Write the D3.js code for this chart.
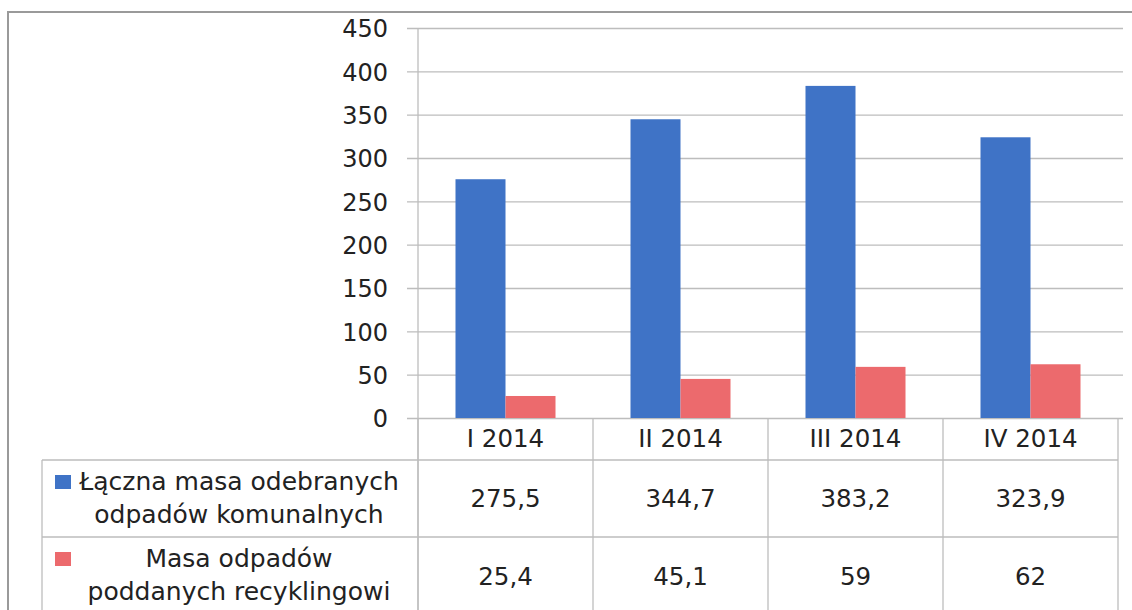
<!DOCTYPE html>
<html lang="pl">
<head>
  <meta charset="UTF-8">
  <title>Masa odpadów 2014</title>
  <script src="https://d3js.org/d3.v7.min.js"></script>
  <style>
    body { margin: 0; background: #fff; }
    svg text { font-family: "DejaVu Sans", sans-serif; fill: #222; }
  </style>
</head>
<body>
  <div id="chart"></div>

  <script>
    // dane
    const kwartaly = ["I 2014", "II 2014", "III 2014", "IV 2014"];
    const serie = ["laczna", "recykling"];
    const laczna = [275.5, 344.7, 383.2, 323.9];
    const recykling = [25.4, 45.1, 59, 62];
    const opisy = [
      ["Łączna masa odebranych", "odpadów komunalnych"],
      ["Masa odpadów", "poddanych recyklingowi"]
    ];
    const osY = [0, 50, 100, 150, 200, 250, 300, 350, 400, 450];
    const kolory = ["#3f73c6", "#ec6a6d"];

    const W = 1132, H = 610;
    const pLeft = 418, pRight = 1118, pTop = 28, pBottom = 418;

    const svg = d3.select("#chart").append("svg")
      .attr("width", W).attr("height", H);

    svg.append("rect").attr("width", W).attr("height", H).attr("fill", "#fff");

    // ramka zewnętrzna
    svg.append("path")
      .attr("d", `M8,${H} L8,12 L${W},12`)
      .attr("fill", "none").attr("stroke", "#9a9a9a").attr("stroke-width", 2);

    const x = d3.scaleBand().domain(kwartaly).range([pLeft, pRight]);
    const xs = d3.scaleBand().domain(serie)
      .range([0, x.bandwidth()]).paddingInner(0).paddingOuter(0.75);
    const y = d3.scaleLinear().domain([0, 450]).range([pBottom, pTop]);

    // siatka i oś Y
    const yAxis = svg.append("g")
      .attr("transform", `translate(${pLeft},0)`)
      .call(d3.axisLeft(y).tickValues(osY).tickSize(-(pRight - pLeft + 5)).tickPadding(30));
    yAxis.select(".domain").remove();
    yAxis.selectAll(".tick line")
      .attr("x1", -11).attr("stroke", "#bdbdbd").attr("stroke-width", 1.3);
    yAxis.selectAll(".tick text")
      .style("font-size", "24px").attr("dy", "0.37em").attr("fill", "#222");

    svg.append("line")
      .attr("x1", pLeft).attr("x2", pLeft).attr("y1", pTop).attr("y2", H)
      .attr("stroke", "#bdbdbd").attr("stroke-width", 1.3);

    // słupki
    const dane = kwartaly.map((k, i) => ({ k, v: [laczna[i], recykling[i]] }));
    const grupy = svg.selectAll(".grupa").data(dane).enter().append("g")
      .attr("transform", d => `translate(${x(d.k)},0)`);
    grupy.selectAll("rect")
      .data(d => serie.map((s, j) => ({ s, v: d.v[j], j })))
      .enter().append("rect")
      .attr("x", d => xs(d.s))
      .attr("width", xs.bandwidth())
      .attr("y", d => y(d.v))
      .attr("height", d => y(0) - y(d.v))
      .attr("fill", d => kolory[d.j]);

    // tabela danych
    const tabStroke = "#bdbdbd";
    const rowTop = [460, 537];
    kwartaly.forEach(k => {
      svg.append("line").attr("x1", x(k)).attr("x2", x(k)).attr("y1", pBottom).attr("y2", H)
        .attr("stroke", tabStroke).attr("stroke-width", 1.3);
    });
    svg.append("line").attr("x1", pRight).attr("x2", pRight).attr("y1", pBottom).attr("y2", H)
      .attr("stroke", tabStroke).attr("stroke-width", 1.3);
    rowTop.forEach(r => {
      svg.append("line").attr("x1", 42).attr("x2", pRight).attr("y1", r).attr("y2", r)
        .attr("stroke", tabStroke).attr("stroke-width", 1.3);
    });
    svg.append("line").attr("x1", 42).attr("x2", 42).attr("y1", rowTop[0]).attr("y2", H)
      .attr("stroke", tabStroke).attr("stroke-width", 1.3);

    // etykiety kategorii
    svg.selectAll(".kat").data(kwartaly).enter().append("text")
      .attr("x", d => x(d) + x.bandwidth() / 2)
      .attr("y", 447)
      .attr("text-anchor", "middle").style("font-size", "24.5px")
      .text(d => d);

    // wartości w tabeli
    const wiersze = [laczna, recykling];
    wiersze.forEach((w, r) => {
      const by = r === 0 ? 507 : 585;
      svg.selectAll(".wart" + r).data(w).enter().append("text")
        .attr("x", (d, i) => x(kwartaly[i]) + x.bandwidth() / 2)
        .attr("y", by)
        .attr("text-anchor", "middle").style("font-size", "24.5px")
        .text(d => String(d).replace(".", ","));
    });

    // legenda w tabeli
    const linie = [[490, 523], [567, 600]];
    opisy.forEach((o, r) => {
      svg.append("rect")
        .attr("x", 55).attr("y", linie[r][0] - 15)
        .attr("width", 16).attr("height", 14)
        .attr("fill", kolory[r]);
      o.forEach((t, l) => {
        svg.append("text")
          .attr("x", 239).attr("y", linie[r][l])
          .attr("text-anchor", "middle").style("font-size", "25px")
          .text(t);
      });
    });
  </script>
</body>
</html>
